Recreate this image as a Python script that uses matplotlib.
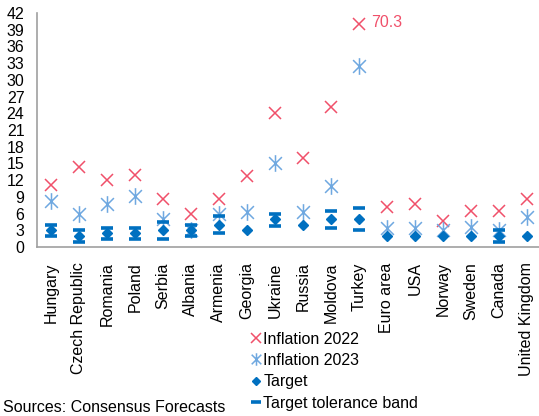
import matplotlib
matplotlib.use("Agg")
import matplotlib.pyplot as plt
from matplotlib.path import Path
import numpy as np

plt.rcParams['font.family'] = ['Liberation Sans', 'DejaVu Sans']

countries = ["Hungary", "Czech Republic", "Romania", "Poland", "Serbia", "Albania",
             "Armenia", "Georgia", "Ukraine", "Russia", "Moldova", "Turkey",
             "Euro area", "USA", "Norway", "Sweden", "Canada", "United Kingdom"]

# Turkey 2022 is 70.3, drawn capped at 40 with a label
infl_2022 = [11.1, 14.3, 12.1, 12.9, 8.7, 5.9, 8.6, 12.8, 24.0, 15.9, 25.1, 40.0,
             7.2, 7.8, 4.7, 6.5, 6.5, 8.6]
infl_2023 = [8.3, 6.0, 7.8, 9.2, 5.0, 3.1, 6.0, 6.3, 15.0, 6.3, 10.9, 32.4,
             3.4, 3.4, 3.1, 3.6, 3.1, 5.4]
target = [3, 2, 2.5, 2.5, 3, 3, 4, 3, 5, 4, 5, 5, 2, 2, 2, 2, 2, 2]
# tolerance band (lower, upper); None where no band
band_low = [2, 1, 1.5, 1.5, 1.5, 2, 2.5, None, 3.8, None, 3.5, 3, None, None, None, None, 1, None]
band_high = [4, 3, 3.5, 3.5, 4.5, 4, 5.5, None, 6, None, 6.5, 7, None, None, None, None, 3, None]
turkey_2022_actual = 70.3

c2022 = "#F0506A"
c2023 = "#6FA8E0"
ctarget = "#0070C0"

# asterisk marker: X plus vertical stroke
ast = Path([(-1, -1), (1, 1), (-1, 1), (1, -1), (0, -1.3), (0, 1.3)],
           [Path.MOVETO, Path.LINETO, Path.MOVETO, Path.LINETO, Path.MOVETO, Path.LINETO])

fig = plt.figure(figsize=(5.39, 4.16), dpi=100)
ax = fig.add_axes([0.0686, 0.406, 0.935, 0.563])

x = np.arange(len(countries))
ax.plot(x, infl_2022, linestyle='none', marker='x', ms=9, mew=1.1, color=c2022, label="Inflation 2022")
ax.plot(x, infl_2023, linestyle='none', marker=ast, ms=12, mew=1.1, color=c2023, label="Inflation 2023")
ax.plot(x, target, linestyle='none', marker='D', ms=5.5, color=ctarget, label="Target")

bx = [i for i in x if band_low[i] is not None]
bl = [band_low[i] for i in bx]
bh = [band_high[i] for i in bx]
ax.plot(bx + bx, bl + bh, linestyle='none', marker='_', ms=9, mew=2.6, color=ctarget,
        label="Target tolerance band")

ax.annotate(f"{turkey_2022_actual}", xy=(11, 40), xytext=(9, 1), textcoords='offset points',
            color=c2022, fontsize=11.5, va='center', ha='left')

ax.set_xlim(-0.5, 17.5)
ax.set_ylim(0, 42)
ax.set_yticks(np.arange(0, 43, 3))
ax.set_xticks(x)
ax.set_xticklabels(countries, rotation=90)
ax.tick_params(axis='both', length=0, labelsize=11.5)
ax.tick_params(axis='y', pad=9)
ax.tick_params(axis='x', pad=11)
for s in ['top', 'right']:
    ax.spines[s].set_visible(False)
for s in ['left', 'bottom']:
    ax.spines[s].set_color('#a0a0a0')
    ax.spines[s].set_linewidth(1.2)

handles, labels = ax.get_legend_handles_labels()
fig.legend(handles, labels, loc='upper left', bbox_to_anchor=(0.468, 0.203),
           frameon=False, fontsize=11.5, handlelength=0.5, handletextpad=0.2,
           labelspacing=0.4, borderpad=0, borderaxespad=0, markerscale=0.75)

fig.text(0.006, 0.003, "Sources: Consensus Forecasts", fontsize=11.5, va='bottom', ha='left')

plt.savefig("out.png", dpi=100)
